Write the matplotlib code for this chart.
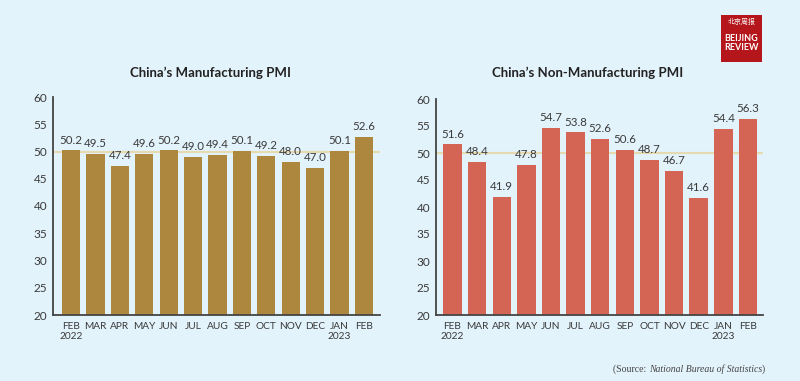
import matplotlib.pyplot as plt
from matplotlib.patches import Rectangle

months = ["FEB\n2022", "MAR", "APR", "MAY", "JUN", "JUL", "AUG", "SEP",
          "OCT", "NOV", "DEC", "JAN\n2023", "FEB"]
manufacturing = [50.2, 49.5, 47.4, 49.6, 50.2, 49.0, 49.4, 50.1, 49.2, 48.0, 47.0, 50.1, 52.6]
non_manufacturing = [51.6, 48.4, 41.9, 47.8, 54.7, 53.8, 52.6, 50.6, 48.7, 46.7, 41.6, 54.4, 56.3]
yticks = [20, 25, 30, 35, 40, 45, 50, 55, 60]

BG = "#e3f3fb"
TXT = "#3a3a3a"
plt.rcParams['font.family'] = ['Lato', 'DejaVu Sans']

W, H = 800, 381
fig = plt.figure(figsize=(W / 100, H / 100), dpi=100, facecolor=BG)


def make_axes(x0, x1, y_top, y_bot):
    return fig.add_axes([x0 / W, 1 - y_bot / H, (x1 - x0) / W, (y_bot - y_top) / H])


def draw(ax, values, color, title, xlim, title_x):
    ax.set_facecolor(BG)
    x = range(len(values))
    ax.axhline(50, color="#e6dab0", lw=1.5, zorder=1)
    ax.bar(x, [v - 20 for v in values], bottom=20, width=0.75, color=color, zorder=2)
    for i, v in zip(x, values):
        ax.text(i, v + 0.9, f"{v:.1f}", ha="center", va="bottom", fontsize=8.3, color=TXT)
    ax.set_ylim(20, 60)
    ax.set_xlim(*xlim)
    ax.set_yticks(yticks)
    ax.set_xticks(list(x))
    ax.set_xticklabels(months, fontsize=7.3, color=TXT, linespacing=1.2)
    ax.tick_params(axis="y", labelsize=8.5, colors=TXT, length=0, pad=4)
    ax.tick_params(axis="x", length=0, pad=5)
    for s in ["top", "right"]:
        ax.spines[s].set_visible(False)
    for s in ["left", "bottom"]:
        ax.spines[s].set_color("#444444")
        ax.spines[s].set_linewidth(1.3)
    fig.text(title_x / W, 1 - 73 / H, title, ha="center", va="center",
             fontsize=9.5, fontweight="bold", color="#222222")


ax1 = make_axes(53, 380, 97, 315)
draw(ax1, manufacturing, "#ad873e", "China\u2019s Manufacturing PMI", (-0.74, 12.66), 210)

ax2 = make_axes(436, 763, 99, 315)
draw(ax2, non_manufacturing, "#d46555", "China\u2019s Non-Manufacturing PMI", (-0.67, 12.61), 588)

# source
src = fig.text(613 / W, 1 - 369 / H, "(Source: ", ha="left", va="center", fontsize=7,
               family="Liberation Serif", color="#444444")
fig.canvas.draw()
bb = src.get_window_extent()
src2 = fig.text(bb.x1 / W, 1 - 369 / H, "National Bureau of Statistics", ha="left", va="center",
                fontsize=7, family="Liberation Serif", style="italic", color="#444444")
bb2 = src2.get_window_extent()
fig.text(bb2.x1 / W, 1 - 369 / H, ")", ha="left", va="center", fontsize=7,
         family="Liberation Serif", color="#444444")

# logo
fig.patches.append(Rectangle((721 / W, 1 - 62 / H), 41 / W, 47 / H, transform=fig.transFigure,
                             facecolor="#b5161b", edgecolor="none"))
fig.text(741.5 / W, 1 - 22 / H, "北京周报", ha="center", va="center", fontsize=5,
         color="white", family=["Noto Sans CJK SC", "DejaVu Sans"])
fig.text(741.5 / W, 1 - 43 / H, "BEIJING\nREVIEW", ha="center", va="center", fontsize=6.5,
         color="white", fontweight="bold", linespacing=0.95)

fig.savefig("out.png", dpi=100, facecolor=BG)
